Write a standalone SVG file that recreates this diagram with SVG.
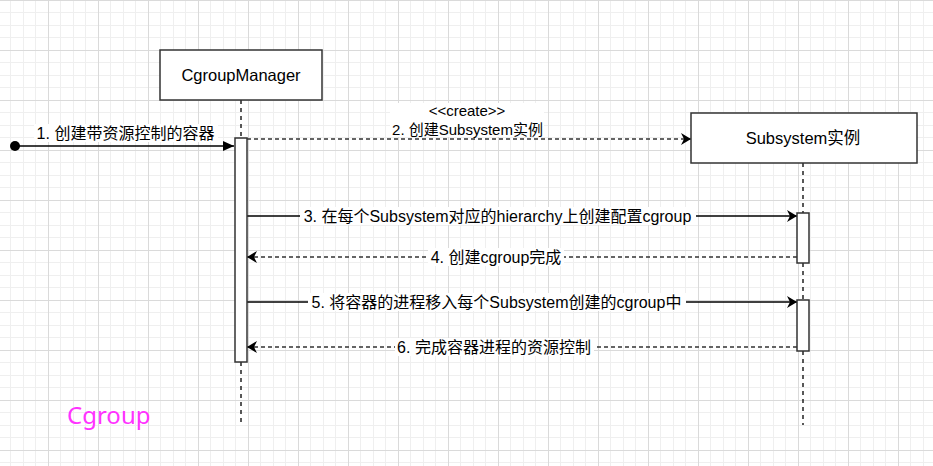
<svg xmlns="http://www.w3.org/2000/svg" width="933" height="466" viewBox="0 0 933 466">
<defs>
<pattern id="grid" patternUnits="userSpaceOnUse" x="48" y="0" width="50" height="50">
<rect x="12" y="0" width="1" height="50" fill="#efefef"/>
<rect x="25" y="0" width="1" height="50" fill="#efefef"/>
<rect x="37" y="0" width="1" height="50" fill="#efefef"/>
<rect x="0" y="12" width="50" height="1" fill="#efefef"/>
<rect x="0" y="25" width="50" height="1" fill="#efefef"/>
<rect x="0" y="37" width="50" height="1" fill="#efefef"/>
<rect x="0" y="0" width="1" height="50" fill="#dadada"/>
<rect x="0" y="0" width="50" height="1" fill="#dadada"/>
</pattern>
<marker id="classic" markerUnits="userSpaceOnUse" markerWidth="10" markerHeight="12" viewBox="0 0 10 12" refX="10" refY="6" orient="auto">
<path d="M0,0 L10,6 L0,12 L3,6 z" fill="#000"/>
</marker>
<marker id="block" markerUnits="userSpaceOnUse" markerWidth="11" markerHeight="10" viewBox="0 0 11 10" refX="11" refY="5" orient="auto">
<path d="M0,0 L11,5 L0,10 z" fill="#000"/>
</marker>
</defs>
<style>
.box{fill:#fff;stroke:#333;stroke-width:1.5}
.act{fill:#fff;stroke:#333;stroke-width:1.5}
.life{stroke:#222;stroke-width:1.5;stroke-dasharray:4 4;fill:none}
.msg{stroke:#000;stroke-width:1.3;fill:none}
.ret{stroke:#333;stroke-width:1.5;fill:none;stroke-dasharray:4 3}
.title{font-family:"Comic Sans MS","Liberation Sans","Noto Sans CJK SC",sans-serif;font-size:16.5px;fill:#000}
.lbl{font-family:"Liberation Sans","Noto Sans CJK SC",sans-serif;font-size:16px;fill:#000}
.lbl15{font-family:"Liberation Sans","Noto Sans CJK SC",sans-serif;font-size:15px;fill:#000}
.lblbg{fill:#fff}
</style>
<rect x="0" y="0" width="933" height="466" fill="#fff"/>
<rect x="0" y="0" width="933" height="466" fill="url(#grid)"/>

<g id="lifelines">
<line class="life" x1="241" y1="100" x2="241" y2="138"/>
<line class="life" x1="241" y1="362" x2="241" y2="425"/>
<line class="life" x1="803" y1="163" x2="803" y2="213"/>
<line class="life" x1="803" y1="263" x2="803" y2="300"/>
<line class="life" x1="803" y1="351" x2="803" y2="425"/>
</g>

<g id="connectors">
<circle cx="15" cy="146" r="5" fill="#000"/>
<line class="msg" x1="15" y1="146" x2="234" y2="146" marker-end="url(#block)"/>
<line class="ret" x1="247" y1="139" x2="691" y2="139" marker-end="url(#classic)"/>
<line class="msg" x1="247" y1="216" x2="797" y2="216" marker-end="url(#classic)"/>
<line class="ret" x1="797" y1="257" x2="247" y2="257" marker-end="url(#classic)"/>
<line class="msg" x1="247" y1="302" x2="797" y2="302" marker-end="url(#classic)"/>
<line class="ret" x1="797" y1="347" x2="247" y2="347" marker-end="url(#classic)"/>
</g>

<g id="labels">
<rect class="lblbg" x="34" y="124" width="184" height="18"/>
<text class="lbl" x="125.5" y="133" text-anchor="middle" dominant-baseline="central">1. 创建带资源控制的容器</text>
<rect class="lblbg" x="390" y="103" width="154" height="34"/>
<text class="lbl15" x="467" y="110" text-anchor="middle" dominant-baseline="central">&lt;&lt;create&gt;&gt;</text>
<text class="lbl15" x="467.5" y="129" text-anchor="middle" dominant-baseline="central">2. 创建Subsystem实例</text>
<rect class="lblbg" x="300" y="207" width="396" height="18"/>
<text class="lbl" x="497.5" y="216" text-anchor="middle" dominant-baseline="central">3. 在每个Subsystem对应的hierarchy上创建配置cgroup</text>
<rect class="lblbg" x="428" y="248" width="136" height="18"/>
<text class="lbl" x="496" y="257" text-anchor="middle" dominant-baseline="central">4. 创建cgroup完成</text>
<rect class="lblbg" x="308" y="293" width="378" height="18"/>
<text class="lbl" x="496.5" y="302" text-anchor="middle" dominant-baseline="central">5. 将容器的进程移入每个Subsystem创建的cgroup中</text>
<rect class="lblbg" x="395" y="338" width="199" height="18"/>
<text class="lbl" x="494" y="347" text-anchor="middle" dominant-baseline="central">6. 完成容器进程的资源控制</text>
</g>

<g id="CgroupManager">
<rect class="box" x="160" y="50" width="162" height="50"/>
<text class="title" x="241" y="75" text-anchor="middle" dominant-baseline="central">CgroupManager</text>
</g>
<g id="CgroupManager-activation">
<rect class="act" x="235" y="138" width="12" height="224"/>
</g>

<g id="Subsystem">
<rect class="box" x="691" y="113" width="226" height="50"/>
<text class="title" x="803" y="138" text-anchor="middle" dominant-baseline="central">Subsystem实例</text>
</g>
<g id="Subsystem-activation-1">
<rect class="act" x="797" y="213" width="12" height="50"/>
</g>
<g id="Subsystem-activation-2">
<rect class="act" x="797" y="300" width="12" height="51"/>
</g>

<g id="caption">
<text x="67" y="424" font-family="'Segoe UI','Noto Sans','Liberation Sans',sans-serif" font-size="24" fill="#FF33FF">Cgroup</text>
</g>
</svg>
